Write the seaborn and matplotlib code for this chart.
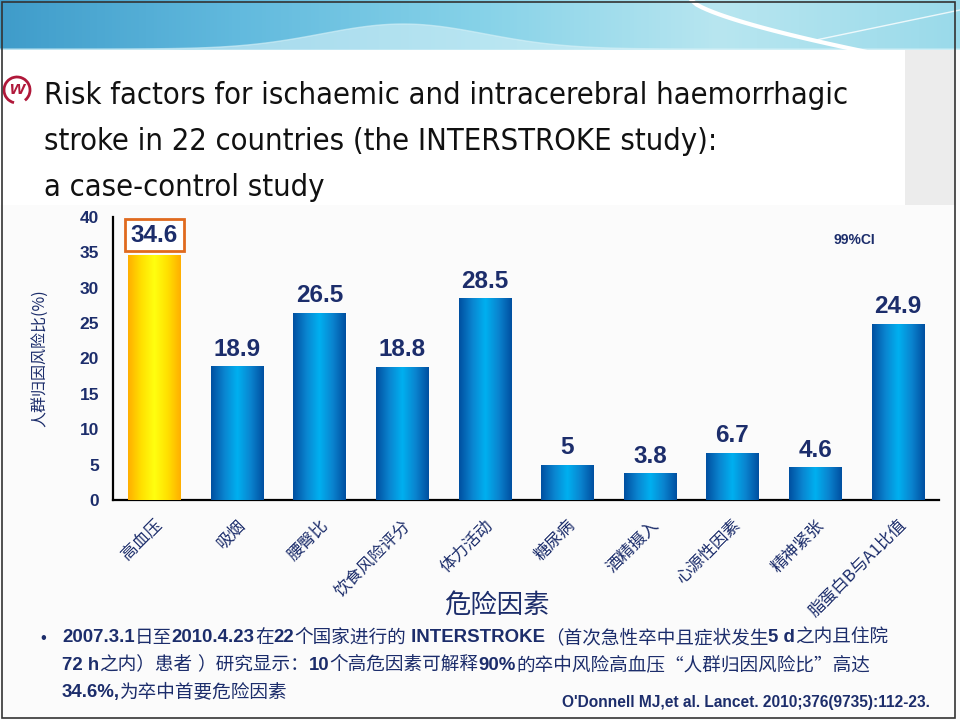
import re
import numpy as np
import seaborn as sns
import matplotlib.pyplot as plt
from matplotlib.patches import Rectangle, Arc
from matplotlib.colors import LinearSegmentedColormap

sns.set_theme(style="white")
plt.rcParams['font.family'] = ['Liberation Sans', 'Noto Sans CJK SC', 'DejaVu Sans']

# data
factors = ["高血压", "吸烟", "腰臀比", "饮食风险评分", "体力活动",
           "糖尿病", "酒精摄入", "心源性因素", "精神紧张", "脂蛋白B与A1比值"]
par_values = [34.6, 18.9, 26.5, 18.8, 28.5, 5, 3.8, 6.7, 4.6, 24.9]
value_labels = ["34.6", "18.9", "26.5", "18.8", "28.5", "5", "3.8", "6.7", "4.6", "24.9"]
y_ticks = [0, 5, 10, 15, 20, 25, 30, 35, 40]

navy = "#1c2d6b"
W, H = 960, 720

fig = plt.figure(figsize=(9.6, 7.2), dpi=100)
fig.patch.set_facecolor("#fbfbfb")
renderer = fig.canvas.get_renderer()

# header band
band = fig.add_axes([0, 1 - 50 / H, 1, 50 / H])
grad = np.linspace(0, 1, 256).reshape(1, -1)
band_cmap = LinearSegmentedColormap.from_list("band", ["#3f9cca", "#62bade", "#86d2e8", "#b8e6f0", "#9adaea"])
band.imshow(grad, aspect="auto", cmap=band_cmap, extent=[0, 1, 0, 1])
xs = np.linspace(0, 1, 200)
band.fill_between(xs, 0, 0.02 + 0.5 * np.exp(-((xs - 0.42) / 0.12) ** 2), color="#d8f2f8", alpha=0.6)
band.plot(np.linspace(0.72, 1, 50), 1 - 1.4 * np.linspace(0, 1, 50) ** 0.7, color="white", lw=3)
band.plot(np.linspace(0.85, 1, 30), 0.2 + 0.6 * np.linspace(0, 1, 30), color="white", lw=1, alpha=0.8)
band.set_xlim(0, 1)
band.set_ylim(0, 1)
band.axis("off")

# title panel
fig.patches.append(Rectangle((0, 1 - 205 / H), 905 / W, 155 / H, transform=fig.transFigure,
                             facecolor="white", edgecolor="none", zorder=0))
fig.patches.append(Rectangle((905 / W, 1 - 205 / H), 50 / W, 155 / H, transform=fig.transFigure,
                             facecolor="#ececec", edgecolor="none", zorder=0))
title_lines = ["Risk factors for ischaemic and intracerebral haemorrhagic",
               "stroke in 22 countries (the INTERSTROKE study):",
               "a case-control study"]
title_texts = []
for i, line in enumerate(title_lines):
    t = fig.text(44 / W, 1 - (104 + 46 * i) / H, line, fontsize=24, family="DejaVu Sans",
                 stretch="condensed", color="#111111", va="baseline")
    title_texts.append(t)
# shrink the title so its first line spans the same width as the slide's
w0 = title_texts[0].get_window_extent(renderer).width
for t in title_texts:
    t.set_fontsize(24 * 806 / w0)

# lancet logo
fig.patches.append(Arc((17 / W, 1 - 90 / H), 26 / W, 26 / H, theta1=-60, theta2=260,
                       transform=fig.transFigure, color="#b0183a", lw=2))
fig.text(17 / W, 1 - 90 / H, "w", fontsize=14, color="#b0183a", ha="center", va="center",
         style="italic", weight="bold")

# chart
ax = fig.add_axes([113 / W, 1 - 500 / H, 826 / W, 283 / H])
ax.set_facecolor("none")
sns.barplot(x=factors, y=par_values, color="#1a8ad8", width=0.63, ax=ax, zorder=2)

blue_cmap = LinearSegmentedColormap.from_list("blue", ["#004fa0", "#0a84cf", "#00b0f0", "#0a84cf", "#004fa0"])
gold_cmap = LinearSegmentedColormap.from_list("gold", ["#ffae00", "#ffe000", "#ffff10", "#ffe000", "#ffae00"])
for i, bar in enumerate(ax.patches):
    x0, y0 = bar.get_x(), bar.get_y()
    w, h = bar.get_width(), bar.get_height()
    cmap = gold_cmap if i == 0 else blue_cmap
    img = ax.imshow(grad, aspect="auto", cmap=cmap, extent=[x0, x0 + w, y0, y0 + h], zorder=3)
    img.set_clip_path(bar)
    if i == 0:
        ax.add_patch(Rectangle((x0 - 0.04, y0 + h + 0.6), w + 0.08, 4.5, facecolor="white",
                               edgecolor="#e06a1e", lw=2, zorder=4))
        ax.text(x0 + w / 2, y0 + h + 2.85, value_labels[i], ha="center", va="center",
                fontsize=17.5, weight="bold", color=navy, zorder=5)
    else:
        ax.annotate(value_labels[i], (x0 + w / 2, y0 + h), xytext=(0, 4), textcoords="offset points",
                    ha="center", va="bottom", fontsize=17.5, weight="bold", color=navy, zorder=5)

ax.set_xlim(-0.5, 9.5)
ax.set_ylim(0, 40)
ax.set_yticks(y_ticks)
ax.set_xticks(np.arange(-0.5, 10, 1))
ax.set_xticklabels([])
ax.set_xticks(np.arange(10), minor=True)
ax.set_xticklabels(factors, minor=True, rotation=45, ha="right", va="top", rotation_mode="anchor",
                   family=["Noto Sans CJK SC", "DejaVu Sans"], fontsize=12, color=navy)
ax.tick_params(axis="x", which="minor", length=0, pad=12)
ax.tick_params(axis="both", which="major", direction="out", length=5, width=1.5, color="black")
ax.tick_params(axis="y", labelsize=12.5, labelcolor=navy, pad=5)
for lab in ax.get_yticklabels():
    lab.set_fontweight("bold")
for side in ["top", "right"]:
    ax.spines[side].set_visible(False)
for side in ["left", "bottom"]:
    ax.spines[side].set_color("black")
    ax.spines[side].set_linewidth(1.6)
ax.set_ylabel("人群归因风险比(%)", family=["Noto Sans CJK SC", "DejaVu Sans"], fontsize=11.5,
              color=navy, labelpad=22)
ax.set_xlabel("")
ax.text(0.897, 0.92, "99%CI", transform=ax.transAxes, fontsize=10, weight="bold", color=navy,
        ha="center", va="center")

fig.text(497 / W, 1 - 606 / H, "危险因素", family=["Noto Sans CJK SC"], fontsize=19,
         color=navy, ha="center", va="center")

# footnote: latin runs in bold Arial-like, chinese runs in regular CJK
note_lines = ["2007.3.1日至2010.4.23在22个国家进行的 INTERSTROKE（首次急性卒中且症状发生5 d之内且住院",
              "72 h之内）患者 ）研究显示：10个高危因素可解释90%的卒中风险高血压“人群归因风险比”高达",
              "34.6%,为卒中首要危险因素"]
fig.text(40 / W, 1 - 638 / H, "•", fontsize=12, color=navy, va="center")
for i, line in enumerate(note_lines):
    xpos = 62
    for run in re.findall(r"[\x20-\x7e]+|[^\x20-\x7e]+", line):
        latin = run[0] <= "\x7e"
        t = fig.text(xpos / W, 1 - (638 + 27 * i) / H, run, fontsize=13.4, color=navy, va="center",
                     family=["Liberation Sans"] if latin else ["Noto Sans CJK SC"],
                     weight="bold" if latin else "normal")
        xpos = t.get_window_extent(renderer).x1
fig.text(930 / W, 1 - 703 / H, "O'Donnell MJ,et al. Lancet. 2010;376(9735):112-23.", fontsize=11.2,
         weight="bold", color=navy, ha="right", va="center")

# slide frame
fig.patches.append(Rectangle((2 / W, 2 / H), 953 / W, (H - 4) / H, transform=fig.transFigure,
                             facecolor="none", edgecolor="#333333", lw=1.2, zorder=10))

fig.savefig("out.png", dpi=100)
